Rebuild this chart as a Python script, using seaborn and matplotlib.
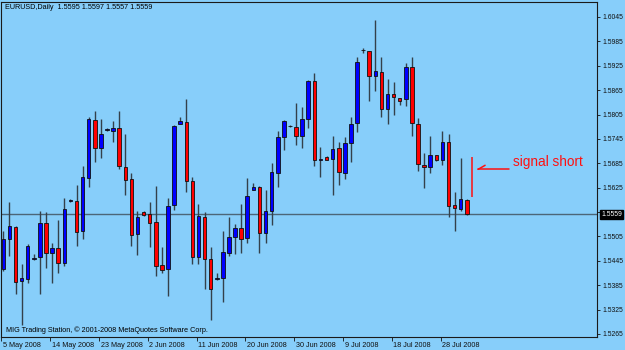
import numpy as np
import pandas as pd
import matplotlib
matplotlib.use("Agg")
import matplotlib.pyplot as plt
import matplotlib.transforms as mtransforms
import seaborn as sns

# ---------------- data (EURUSD daily, 5 May 2008 .. 1 Aug 2008, incl. Sunday bars) -------------
opens = [1.5425, 1.5498, 1.5528, 1.5394, 1.5400, 1.5450, 1.5455, 1.5537, 1.5465, 1.5476,
         1.5439, 1.5591, 1.5592, 1.5518, 1.5648, 1.5792, 1.5722, 1.5767, 1.5765, 1.5772,
         1.5677, 1.5646, 1.5511, 1.5566, 1.5560, 1.5540, 1.5434, 1.5424, 1.5582, 1.5781,
         1.5787, 1.5641, 1.5455, 1.5553, 1.5449, 1.5400, 1.5402, 1.5465, 1.5504, 1.5526,
         1.5500, 1.5619, 1.5626, 1.5513, 1.5568, 1.5662, 1.5750, 1.5776, 1.5775, 1.5753,
         1.5793, 1.5888, 1.5693, 1.5701, 1.5695, 1.5722, 1.5662, 1.5736, 1.5783, 1.5963,
         1.5961, 1.5900, 1.5909, 1.5819, 1.5855, 1.5845, 1.5842, 1.5923, 1.5782, 1.5681,
         1.5677, 1.5705, 1.5693, 1.5737, 1.5582, 1.5573, 1.5595]
highs = [1.5519, 1.5590, 1.5530, 1.5437, 1.5486, 1.5462, 1.5568, 1.5564, 1.5488, 1.5545,
         1.5600, 1.5597, 1.5632, 1.5678, 1.5800, 1.5814, 1.5793, 1.5773, 1.5789, 1.5814,
         1.5756, 1.5662, 1.5568, 1.5568, 1.5589, 1.5630, 1.5480, 1.5600, 1.5779, 1.5798,
         1.5842, 1.5650, 1.5585, 1.5566, 1.5480, 1.5414, 1.5519, 1.5552, 1.5536, 1.5585,
         1.5648, 1.5636, 1.5628, 1.5619, 1.5685, 1.5765, 1.5792, 1.5779, 1.5834, 1.5824,
         1.5890, 1.5908, 1.5726, 1.5704, 1.5752, 1.5738, 1.5749, 1.5800, 1.5946, 1.5968,
         1.5962, 1.6038, 1.5947, 1.5892, 1.5886, 1.5846, 1.5931, 1.5947, 1.5796, 1.5710,
         1.5752, 1.5706, 1.5765, 1.5757, 1.5615, 1.5697, 1.5597]
lows = [1.5421, 1.5457, 1.5363, 1.5287, 1.5390, 1.5447, 1.5363, 1.5427, 1.5391, 1.5416,
        1.5433, 1.5589, 1.5482, 1.5499, 1.5627, 1.5689, 1.5697, 1.5764, 1.5738, 1.5670,
        1.5607, 1.5482, 1.5459, 1.5554, 1.5480, 1.5407, 1.5416, 1.5359, 1.5570, 1.5781,
        1.5615, 1.5437, 1.5437, 1.5375, 1.5299, 1.5398, 1.5344, 1.5457, 1.5461, 1.5463,
        1.5489, 1.5619, 1.5465, 1.5489, 1.5533, 1.5627, 1.5718, 1.5774, 1.5730, 1.5722,
        1.5773, 1.5678, 1.5652, 1.5692, 1.5607, 1.5632, 1.5646, 1.5689, 1.5761, 1.5956,
        1.5839, 1.5864, 1.5798, 1.5781, 1.5804, 1.5829, 1.5826, 1.5752, 1.5666, 1.5625,
        1.5660, 1.5691, 1.5681, 1.5552, 1.5518, 1.5567, 1.5557]
closes = [1.5498, 1.5531, 1.5392, 1.5402, 1.5481, 1.5453, 1.5537, 1.5463, 1.5476, 1.5439,
          1.5573, 1.5594, 1.5517, 1.5650, 1.5794, 1.5722, 1.5757, 1.5769, 1.5771, 1.5678,
          1.5644, 1.5508, 1.5553, 1.5558, 1.5537, 1.5432, 1.5422, 1.5581, 1.5777, 1.5789,
          1.5641, 1.5455, 1.5555, 1.5449, 1.5375, 1.5403, 1.5466, 1.5504, 1.5526, 1.5498,
          1.5604, 1.5627, 1.5513, 1.5568, 1.5663, 1.5749, 1.5790, 1.5777, 1.5752, 1.5794,
          1.5888, 1.5693, 1.5695, 1.5693, 1.5719, 1.5664, 1.5736, 1.5782, 1.5933, 1.5964,
          1.5900, 1.5912, 1.5818, 1.5855, 1.5847, 1.5839, 1.5923, 1.5783, 1.5682, 1.5675,
          1.5705, 1.5692, 1.5737, 1.5581, 1.5574, 1.5597, 1.5559]

date_labels = ["5 May 2008", "14 May 2008", "23 May 2008", "2 Jun 2008", "11 Jun 2008",
               "20 Jun 2008", "30 Jun 2008", "9 Jul 2008", "18 Jul 2008", "28 Jul 2008"]
date_label_bars = [0, 8, 16, 24, 32, 40, 48, 56, 64, 72]
price_ticks = [1.6045, 1.5985, 1.5925, 1.5865, 1.5805, 1.5745, 1.5685, 1.5625,
               1.5565, 1.5505, 1.5445, 1.5385, 1.5325, 1.5265]
last_price = 1.5559
header_text = "EURUSD,Daily  1.5595 1.5597 1.5557 1.5559"
footer_text = "MIG Trading Station, \u00a9 2001-2008 MetaQuotes Software Corp."
signal_text = "signal short"
signal_bar = 76.9
signal_range = (1.5603, 1.5700)

# ---------------- style ----------------
BG = "#87CEFA"
sns.set_style("white", {"axes.facecolor": BG, "figure.facecolor": BG})
plt.rcParams["font.family"] = ["Liberation Sans", "DejaVu Sans"]

df = pd.DataFrame({"open": opens, "high": highs, "low": lows, "close": closes})
df["bar"] = np.arange(len(df))
df["bull"] = df["close"] >= df["open"]
df["body_lo"] = df[["open", "close"]].min(axis=1)
df["body_h"] = (df["close"] - df["open"]).abs().clip(lower=0.00012)

fig = plt.figure(figsize=(6.25, 3.5), dpi=100)
fig.patch.set_facecolor(BG)
ax = fig.add_axes([1.5 / 625, 13 / 350, 595.5 / 625, 335 / 350])
ax.set_facecolor(BG)

# current price line
ax.axhline(last_price, color="#4c6678", lw=1.0, zorder=1)

# wicks
ax.vlines(df["bar"], df["low"], df["high"], color="#34404a", lw=1.0, zorder=2)
# bodies
colors = np.where(df["bull"], "#0000FF", "#FF0000")
ax.bar(df["bar"], df["body_h"], bottom=df["body_lo"], width=0.58, color=colors,
       edgecolor="#101010", linewidth=0.6, zorder=3)

ax.set_xlim(-0.2, 97.35)
ax.set_ylim(1.52574, 1.60819)

# axes styling
for s in ax.spines.values():
    s.set_visible(True)
    s.set_color("#1a1a1a")
    s.set_linewidth(0.8)

ax.yaxis.tick_right()
ax.set_yticks(price_ticks)
# the tick label right next to the current price is hidden behind the price box
ax.set_yticklabels(["" if abs(v - last_price) < 0.001 else f"{v:.4f}" for v in price_ticks])
ax.tick_params(axis="y", right=True, left=False, length=2.5, width=0.6, pad=1.5,
               labelsize=4.9, colors="#111111")

ax.set_xticks([b - 0.3 for b in date_label_bars])
ax.set_xticklabels(date_labels, ha="left")
ax.tick_params(axis="x", bottom=True, length=3, width=0.6, pad=0.8, labelsize=5.2,
               colors="#111111")
for lbl in ax.get_xticklabels():
    lbl.set_horizontalalignment("left")
    lbl.set_transform(lbl.get_transform() + mtransforms.ScaledTranslation(1.5 / 100, 0, fig.dpi_scale_trans))

# current price box on the right axis
trans = mtransforms.blended_transform_factory(ax.transAxes, ax.transData)
ax.text(1.0 + 4 / 595.5, last_price, f"{last_price:.4f}", transform=trans, ha="left",
        va="center", fontsize=4.9, color="white", zorder=10, clip_on=False,
        bbox=dict(boxstyle="square,pad=0.15", fc="black", ec="black"))

# header / footer
fig.text(5 / 625, 1 - 7.5 / 350, header_text, fontsize=5.2, color="black", va="center", ha="left")
ax.text(4 / 595.5, 1.52745, footer_text, transform=trans, fontsize=5.2, color="black",
        va="center", ha="left")

# signal annotation
ax.vlines(signal_bar, signal_range[0], signal_range[1], color="#FF1010", lw=1.1, zorder=4)
ax.plot([77.85, 82.98], [1.5670, 1.5670], color="#FF1010", lw=1.1, zorder=4)
ax.plot([77.85, 79.0], [1.5670, 1.5680], color="#FF1010", lw=1.1, zorder=4)
ax.text(83.6, 1.5679, signal_text, color="#FF1010", fontsize=9.8, ha="left", va="baseline")

fig.savefig("out.png", dpi=100, facecolor=BG)
